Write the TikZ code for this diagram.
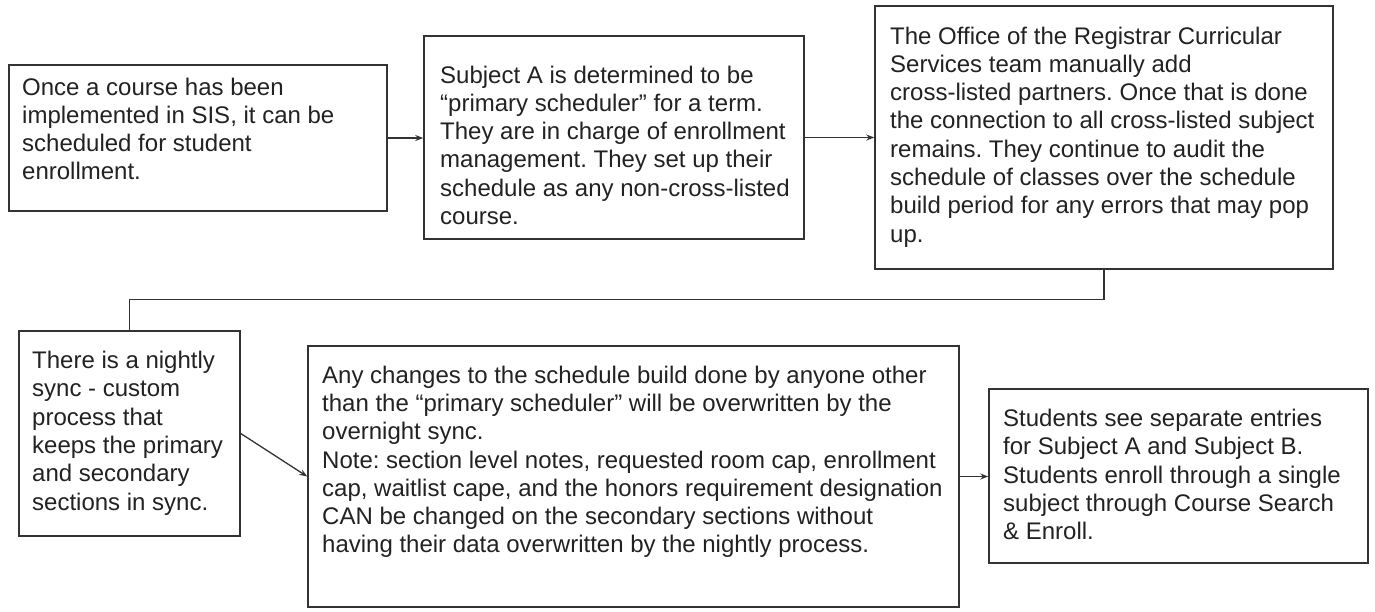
\documentclass[tikz,border=0pt]{standalone}
\usepackage{fontspec}
\setmainfont{Liberation Sans}
\usetikzlibrary{arrows.meta}
\definecolor{ink}{HTML}{222222}
\definecolor{edge}{HTML}{333333}
\frenchspacing
\begin{document}
\begin{tikzpicture}[x=1pt,y=-1pt,
  box/.style={draw=edge, line width=1.5pt, rectangle, inner sep=0pt},
  txt/.style={anchor=north west, inner sep=0pt, align=left, text=ink, font=\fontsize{24}{28.3}\selectfont},
  conn/.style={draw=edge, line width=1.3pt, -{Stealth[length=8pt,width=6pt]}},
  plain/.style={draw=edge, line width=1.3pt}]
\useasboundingbox[fill=white] (0,0) rectangle (1375,611);
% boxes
\node[box, minimum width=378pt, minimum height=146pt] (B1) at (198,138) {};
\node[box, minimum width=380pt, minimum height=203pt] (B2) at (614,137.5) {};
\node[box, minimum width=458pt, minimum height=263pt] (B3) at (1104,137.5) {};
\node[box, minimum width=221pt, minimum height=205pt] (B4) at (129.5,433.5) {};
\node[box, minimum width=651pt, minimum height=261pt] (B5) at (633.5,476.5) {};
\node[box, minimum width=379pt, minimum height=174pt] (B6) at (1178.5,476) {};
% texts
\node[txt] (T1) at (22,77.5) {Once a course has been\\implemented in SIS, it can be\\scheduled for student\\enrollment.};
\node[txt] (T2) at (440,65.5) {Subject A is determined to be\\“primary scheduler” for a term.\\They are in charge of enrollment\\management. They set up their\\schedule as any non-cross-listed\\course.};
\node[txt] (T3) at (890,26.5) {The Office of the Registrar Curricular\\Services team manually add\\cross-listed partners. Once that is done\\the connection to all cross-listed subject\\remains. They continue to audit the\\schedule of classes over the schedule\\build period for any errors that may pop\\up.};
\node[txt] (T4) at (32,351) {There is a nightly\\sync - custom\\process that\\keeps the primary\\and secondary\\sections in sync.};
\node[txt] (T5) at (322,365.5) {Any changes to the schedule build done by anyone other\\than the “primary scheduler” will be overwritten by the\\overnight sync.\\Note: section level notes, requested room cap, enrollment\\cap, waitlist cape, and the honors requirement designation\\CAN be changed on the secondary sections without\\having their data overwritten by the nightly process.};
\node[txt] (T6) at (1003,409) {Students see separate entries\\for Subject A and Subject B.\\Students enroll through a single\\subject through Course Search\\\& Enroll.};
% connectors
\draw[conn] (B1.east) -- (B1.east -| B2.west);
\draw[conn] (B2.east) -- (B2.east -| B3.west);
\draw[plain] (B3.south) -- ++(0,30) -| (B4.north);
\draw[conn] (B4.east) -- (B5.west);
\draw[conn] (B5.east) -- (B5.east -| B6.west);
\end{tikzpicture}
\end{document}
